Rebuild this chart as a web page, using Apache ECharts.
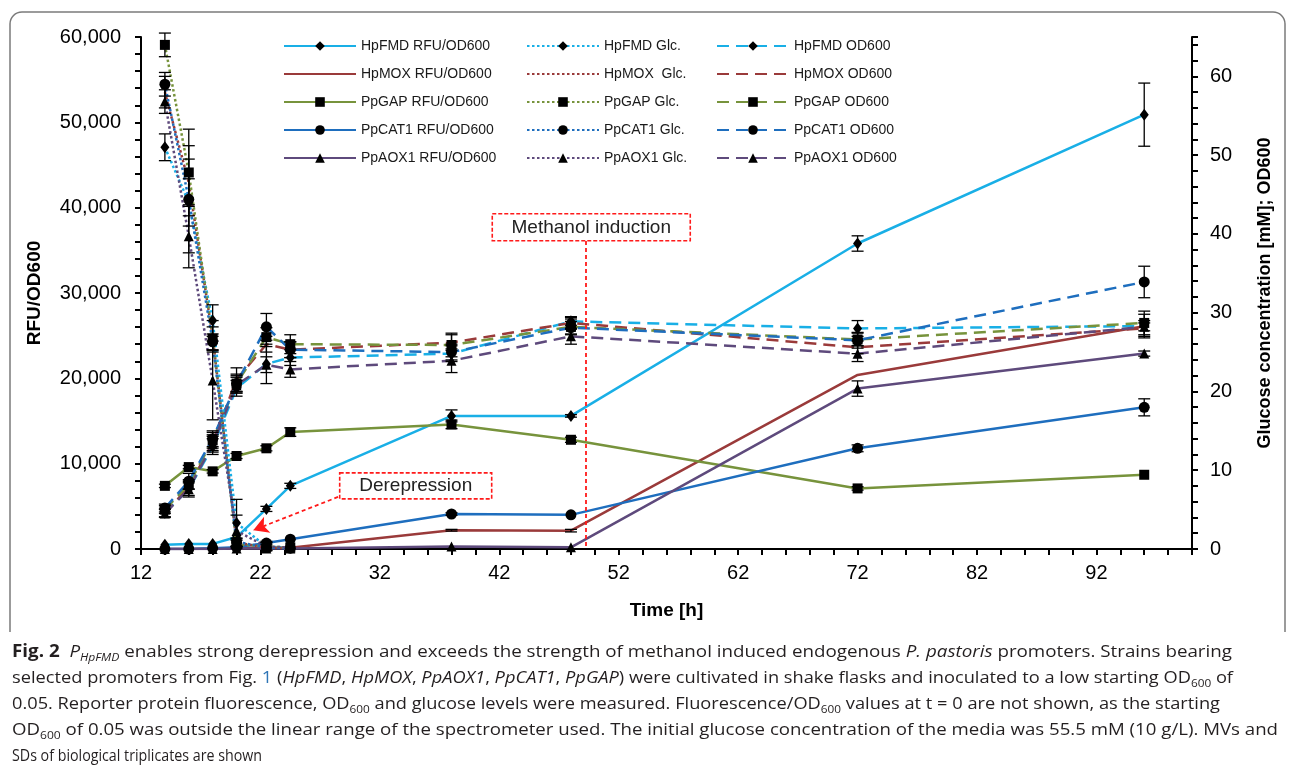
<!DOCTYPE html>
<html><head><meta charset="utf-8">
<script src="https://cdn.jsdelivr.net/npm/echarts@6/dist/echarts.min.js"></script>
<style>
html,body{margin:0;padding:0;background:#fff;}
#chart{position:absolute;left:0;top:0;width:1292px;height:773px;}
.cl{position:absolute;left:12px;white-space:nowrap;font-family:'Open Sans',sans-serif;font-size:17px;line-height:20px;color:#231f20;transform-origin:0 50%;}
.cl sub{font-size:11px;vertical-align:-4px;line-height:0;}
.cl b{font-weight:700;}
</style></head><body>
<div id="chart"></div>
<div class="cl" id="c1" data-w="1220" style="top:641px"><b>Fig. 2</b>&nbsp; <i>P</i><sub><i>HpFMD</i></sub> enables strong derepression and exceeds the strength of methanol induced endogenous <i>P. pastoris</i> promoters. Strains bearing</div>
<div class="cl" id="c2" data-w="1221" style="top:667px">selected promoters from Fig. <span style="color:#2e75b6">1</span> (<i>HpFMD</i>, <i>HpMOX</i>, <i>PpAOX1</i>, <i>PpCAT1</i>, <i>PpGAP</i>) were cultivated in shake flasks and inoculated to a low starting OD<sub>600</sub> of</div>
<div class="cl" id="c3" data-w="1208" style="top:693px">0.05. Reporter protein fluorescence, OD<sub>600</sub> and glucose levels were measured. Fluorescence/OD<sub>600</sub> values at t = 0 are not shown, as the starting</div>
<div class="cl" id="c4" data-w="1266" style="top:719px">OD<sub>600</sub> of 0.05 was outside the linear range of the spectrometer used. The initial glucose concentration of the media was 55.5 mM (10 g/L). MVs and</div>
<div class="cl" id="c5" data-w="250" style="top:745px">SDs of biological triplicates are shown</div>
<script>
// ---- data ----
const times = [14, 16, 18, 20, 22.5, 24.5, 38, 48, 72, 96];
const xTicks = [12, 22, 32, 42, 52, 62, 72, 82, 92];

// RFU/OD600 (left axis)
const hpfmdRfu  = [500, 600, 600, 1400, 4700, 7400, 15600, 15600, 35800, 50900];
const hpmoxRfu  = [0, 0, 50, 100, 150, 150, 2200, 2150, 20400, 26100];
const ppgapRfu  = [7400, 9600, 9100, 10900, 11800, 13700, 14600, 12800, 7100, 8700];
const ppcat1Rfu = [0, 0, 100, 200, 700, 1150, 4100, 4000, 11800, 16600];
const ppaox1Rfu = [0, 0, 0, 50, 50, 50, 300, 200, 18800, 22900];
const hpfmdRfuSd  = [0, 0, 0, 0, 300, 300, 700, 150, 900, 3700];
const hpmoxRfuSd  = [0, 0, 0, 0, 0, 0, 100, 150, 0, 0];
const ppgapRfuSd  = [200, 200, 200, 300, 300, 500, 500, 300, 200, 0];
const ppcat1RfuSd = [0, 0, 0, 0, 200, 0, 150, 0, 400, 1000];
const ppaox1RfuSd = [0, 0, 0, 0, 0, 0, 0, 0, 900, 300];

// Glucose [mM] (right axis)
const hpfmdGlc  = [51.0, 44.0, 29.0, 3.3, 0.3, 0.2];
const hpmoxGlc  = [58.0, 46.5, 27.0, 0.8, 0.2, 0.1];
const ppgapGlc  = [64.0, 47.8, 26.7, 0.6, 0.3, 0.2];
const ppcat1Glc = [59.0, 44.4, 26.3, 0.9, 0.2, 0.1];
const ppaox1Glc = [56.8, 39.7, 21.4, 2.3, 0.3, 0.2];
const hpfmdGlcSd  = [1.7, 3.0, 2.0, 3.0, 0.5, 0];
const hpmoxGlcSd  = [2.0, 3.0, 2.0, 0.5, 0, 0];
const ppgapGlcSd  = [1.5, 5.5, 1.5, 0.5, 0.5, 0];
const ppcat1GlcSd = [1.5, 6.8, 1.0, 0.5, 0, 0];
const ppaox1GlcSd = [1.5, 4.0, 5.0, 2.0, 0, 0];

// OD600 (right axis)
const hpfmdOd  = [4.6, 7.6, 13.0, 20.4, 23.5, 24.3, 24.8, 28.9, 28.0, 28.3];
const hpmoxOd  = [4.5, 7.9, 13.5, 21.5, 26.0, 25.3, 26.2, 28.7, 25.6, 28.0];
const ppgapOd  = [5.0, 8.2, 13.8, 21.0, 26.9, 26.0, 25.9, 28.2, 26.6, 28.7];
const ppcat1Od = [5.2, 8.6, 14.0, 21.0, 28.2, 25.3, 25.0, 28.1, 26.5, 33.9];
const ppaox1Od = [4.5, 7.6, 13.3, 20.8, 23.4, 22.8, 23.9, 27.0, 24.8, 28.2];
const hpfmdOdSd  = [0.5, 0.8, 1.0, 1.0, 2.5, 1.0, 1.0, 0.5, 1.0, 1.5];
const hpmoxOdSd  = [0, 0, 1.0, 1.5, 1.0, 1.0, 1.0, 0.8, 0.8, 1.0];
const ppgapOdSd  = [0.5, 0.6, 1.0, 1.2, 1.2, 1.2, 1.5, 1.0, 0.8, 1.5];
const ppcat1OdSd = [0.5, 1.0, 1.0, 1.0, 1.7, 1.0, 1.0, 0.8, 1.0, 2.0];
const ppaox1OdSd = [0.5, 1.0, 1.0, 1.0, 1.0, 1.0, 1.5, 1.0, 1.0, 0.5];

// ---- styles ----
const COL = {fmd:'#19AFE6', mox:'#9A3A3A', gap:'#77933C', cat1:'#1E6EBE', aox1:'#5E4A7C'};
const SYM = {
  fmd:{symbol:'diamond', symbolSize:[9,12]},
  mox:{symbol:'none', symbolSize:0},
  gap:{symbol:'rect', symbolSize:10},
  cat1:{symbol:'circle', symbolSize:11},
  aox1:{symbol:'triangle', symbolSize:10}
};
const DASH = {solid:'solid', dashed:[12,7], dotted:[2.5,2.5]};

function pairs(vals){ return vals.map((v,i)=>[times[i], v]); }
function lineSeries(name, key, vals, yAxisIndex, style, z){
  return {
    name, type:'line', yAxisIndex, data:pairs(vals), z,
    symbol:SYM[key].symbol, symbolSize:SYM[key].symbolSize, showSymbol: SYM[key].symbol!=='none',
    itemStyle:{color:'#000', borderWidth:0},
    lineStyle:{color:COL[key], width:2.5, type:DASH[style]},
    emphasis:{disabled:true}, animation:false
  };
}
function errSeries(vals, sds, yAxisIndex){
  const d = [];
  vals.forEach((v,i)=>{ if (sds[i]>0) d.push([times[i], v-sds[i], v+sds[i]]); });
  return {
    type:'custom', yAxisIndex, silent:true, z:6, animation:false,
    renderItem:(params, api)=>{
      const x=api.value(0), lo=api.value(1), hi=api.value(2);
      const p1=api.coord([x,lo]), p2=api.coord([x,hi]); const w=6;
      const st={stroke:'#000', lineWidth:1.3};
      return {type:'group', children:[
        {type:'line', shape:{x1:p1[0],y1:p1[1],x2:p2[0],y2:p2[1]}, style:st},
        {type:'line', shape:{x1:p1[0]-w,y1:p1[1],x2:p1[0]+w,y2:p1[1]}, style:st},
        {type:'line', shape:{x1:p2[0]-w,y1:p2[1],x2:p2[0]+w,y2:p2[1]}, style:st}
      ]};
    },
    data:d
  };
}

const rfuNames = ['HpFMD RFU/OD600','HpMOX RFU/OD600','PpGAP RFU/OD600','PpCAT1 RFU/OD600','PpAOX1 RFU/OD600'];
const glcNames = ['HpFMD Glc.','HpMOX  Glc.','PpGAP Glc.','PpCAT1 Glc.','PpAOX1 Glc.'];
const odNames  = ['HpFMD OD600','HpMOX OD600','PpGAP OD600','PpCAT1 OD600','PpAOX1 OD600'];
const keys = ['fmd','mox','gap','cat1','aox1'];
const rfuVals = [hpfmdRfu,hpmoxRfu,ppgapRfu,ppcat1Rfu,ppaox1Rfu];
const rfuSds  = [hpfmdRfuSd,hpmoxRfuSd,ppgapRfuSd,ppcat1RfuSd,ppaox1RfuSd];
const glcVals = [hpfmdGlc,hpmoxGlc,ppgapGlc,ppcat1Glc,ppaox1Glc];
const glcSds  = [hpfmdGlcSd,hpmoxGlcSd,ppgapGlcSd,ppcat1GlcSd,ppaox1GlcSd];
const odVals  = [hpfmdOd,hpmoxOd,ppgapOd,ppcat1Od,ppaox1Od];
const odSds   = [hpfmdOdSd,hpmoxOdSd,ppgapOdSd,ppcat1OdSd,ppaox1OdSd];

const series = [];
keys.forEach((k,i)=>series.push(lineSeries(rfuNames[i], k, rfuVals[i], 0, 'solid', 3)));
keys.forEach((k,i)=>series.push(lineSeries(odNames[i], k, odVals[i], 1, 'dashed', 4)));
keys.forEach((k,i)=>series.push(lineSeries(glcNames[i], k, glcVals[i], 1, 'dotted', 5)));
keys.forEach((k,i)=>{ series.push(errSeries(rfuVals[i], rfuSds[i], 0)); series.push(errSeries(glcVals[i], glcSds[i], 1)); series.push(errSeries(odVals[i], odSds[i], 1)); });

// annotation lines (data coordinates)
series[1].markLine = {
  silent:true, animation:false, symbol:['none','none'], label:{show:false},
  lineStyle:{color:'#ff1a1a', type:[4,3], width:1.8},
  emphasis:{disabled:true},
  data:[
    [{coord:[49.2, 36100]}, {coord:[49.2, 0]}],
    [{coord:[28.5, 6100], symbol:'none'}, {coord:[21.4, 2200], symbol:'arrow', symbolSize:[13,15]}]
  ]
};

const FONT = 'Liberation Sans, Arial, sans-serif';
const axisCommon = {
  axisLine:{show:true, lineStyle:{color:'#000', width:2}},
  axisTick:{show:true, inside:false, length:6, lineStyle:{color:'#000', width:2}},
  minorTick:{show:true, splitNumber:5, length:6, lineStyle:{color:'#000', width:2}},
  splitLine:{show:false}, minorSplitLine:{show:false},
  nameTextStyle:{fontFamily:FONT, fontWeight:'bold', fontSize:19, color:'#000'}
};
const commas = v => String(v).replace(/\B(?=(\d{3})+(?!\d))/g, ',');

const legendBase = {orient:'vertical', itemWidth:72, itemHeight:12, itemGap:14, selectedMode:false, padding:0,
  textStyle:{fontSize:14, color:'#1a1a1a', fontFamily:FONT}};
const noMarker = {itemStyle:{color:'rgba(0,0,0,0)', borderWidth:0}};
const legendData = names => names.map((n,i)=> keys[i]==='mox' ? {name:n, ...noMarker} : {name:n});

const chart = echarts.init(document.getElementById('chart'), null, {renderer:'canvas'});
const option = {
  backgroundColor:'#fff',
  animation:false,
  grid:{left:141, right:100, top:37, bottom:224, containLabel:false},
  xAxis:{type:'value', min:xTicks[0], max:100, interval:10, ...axisCommon,
    axisLabel:{fontSize:20, color:'#000', margin:14, fontFamily:FONT, showMaxLabel:false},
    name:'Time [h]', nameLocation:'middle', nameGap:52},
  yAxis:[
    {type:'value', position:'left', min:0, max:60000, interval:10000, ...axisCommon,
      axisLabel:{fontSize:20, color:'#000', margin:20, fontFamily:FONT, formatter:commas},
      name:'RFU/OD600', nameLocation:'middle', nameGap:97, nameRotate:90},
    {type:'value', position:'right', min:0, max:65, interval:10, ...axisCommon,
      axisLabel:{fontSize:20, color:'#000', margin:18, fontFamily:FONT, showMaxLabel:false},
      name:'Glucose concentration [mM]; OD600', nameLocation:'middle', nameGap:64, nameRotate:90,
      nameTextStyle:{fontFamily:FONT, fontWeight:'bold', fontSize:18, color:'#000'}}
  ],
  legend:[
    {...legendBase, left:283, top:39, data:legendData(rfuNames)},
    {...legendBase, left:526, top:39, data:legendData(glcNames)},
    {...legendBase, left:716, top:39, data:legendData(odNames)}
  ],
  series
};
chart.setOption(option);

// annotation boxes anchored to data coordinates
function box(center, w, h, text){
  const p = chart.convertToPixel({xAxisIndex:0, yAxisIndex:0}, center);
  return [
    {type:'rect', shape:{x:p[0]-w/2, y:p[1]-h/2, width:w, height:h}, style:{fill:'#fff', stroke:'#ff1a1a', lineWidth:1.6, lineDash:[4,2]}, z:20},
    {type:'text', x:p[0], y:p[1], style:{text, fontSize:19, fontFamily:FONT, fill:'#222', align:'center', verticalAlign:'middle'}, z:21}
  ];
}
const frame = {stroke:'#7a7a7a', lineWidth:1.5, fill:'none'};
chart.setOption({graphic:[
  {type:'polyline', shape:{points:[[10,632],[10,24]]}, style:frame, silent:true, z:0},
  {type:'arc', shape:{cx:22, cy:24, r:12, startAngle:Math.PI, endAngle:Math.PI*1.5}, style:frame, silent:true, z:0},
  {type:'polyline', shape:{points:[[22,12],[1273,12]]}, style:frame, silent:true, z:0},
  {type:'arc', shape:{cx:1273, cy:24, r:12, startAngle:Math.PI*1.5, endAngle:Math.PI*2}, style:frame, silent:true, z:0},
  {type:'polyline', shape:{points:[[1285,24],[1285,632]]}, style:frame, silent:true, z:0},
  ...box([49.7, 37700], 198, 27, 'Methanol induction'),
  ...box([35.0, 7400], 152, 26, 'Derepression')
]});

// caption lines fitted to the reference line widths
document.querySelectorAll('.cl').forEach(el=>{
  const w = el.getBoundingClientRect().width;
  const target = +el.dataset.w;
  el.style.transform = 'scaleX(' + (target / w) + ')';
});
</script>
</body></html>
